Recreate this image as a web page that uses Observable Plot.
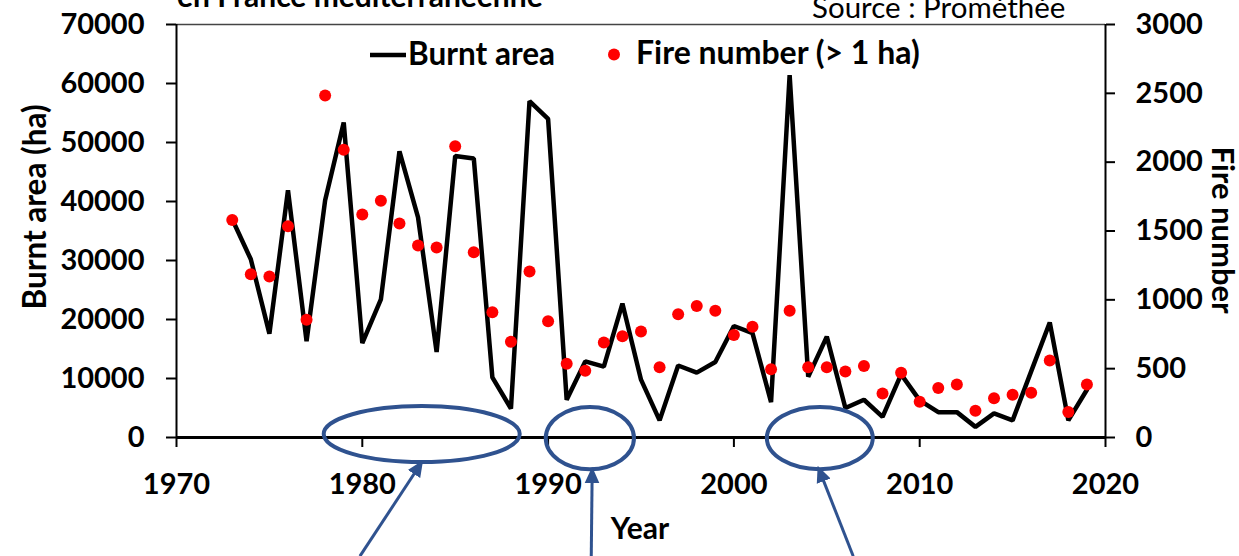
<!DOCTYPE html>
<html><head><meta charset="utf-8">
<script src="https://cdn.jsdelivr.net/npm/d3@7"></script>
<script src="https://cdn.jsdelivr.net/npm/@observablehq/plot@0.6"></script>
<style>
body{margin:0;background:#fff;}
#wrap{position:relative;width:1239px;height:556px;overflow:hidden;background:#fff;}
</style></head><body><div id="wrap"></div>
<script>
const years = [1973,1974,1975,1976,1977,1978,1979,1980,1981,1982,1983,1984,1985,1986,1987,1988,1989,1990,1991,1992,1993,1994,1995,1996,1997,1998,1999,2000,2001,2002,2003,2004,2005,2006,2007,2008,2009,2010,2011,2012,2013,2014,2015,2016,2017,2018,2019];
const burntArea = [37000,30200,17600,41900,16300,40200,53400,16000,23400,48500,37300,14500,47700,47300,10200,4900,57000,54000,6400,12900,12000,22700,9800,2900,12200,11000,12800,18900,17700,6000,61400,10300,17100,5000,6400,3500,10700,6300,4300,4300,1800,4100,2900,11200,19500,2900,8100];
const fireNumber = [1580,1185,1170,1535,855,2485,2090,1620,1720,1555,1395,1380,2115,1345,910,695,1205,845,535,485,690,735,770,510,895,955,920,745,805,495,920,510,510,480,520,320,470,260,360,385,195,285,310,325,560,185,385];
const areaTicks = [0,10000,20000,30000,40000,50000,60000,70000];
const fireTicks = [0,500,1000,1500,2000,2500,3000];
const yearTicks = [1970,1980,1990,2000,2010,2020];
const seriesNames = ["Burnt area","Fire number (> 1 ha)"];
const titleText = "en France méditerranéenne";
const sourceText = "Source : Prométhée";
const xLabel = "Year", yLabel = "Burnt area (ha)", y2Label = "Fire number";

// annotation shapes (in data units: year, burnt-area scale)
const annoEllipses = [
  {x1:1977.95, x2:1988.5, y1:5250, y2:-4250},
  {x1:1989.9, x2:1994.65, y1:5100, y2:-5450},
  {x1:2001.8, x2:2007.5, y1:5100, y2:-5450}
];
const annoArrows = [
  {x1:1979.9, y1:-20200, x2:1983.2, y2:-4400},
  {x1:1992.35, y1:-20200, x2:1992.4, y2:-5600},
  {x1:2006.45, y1:-20200, x2:2004.6, y2:-5400}
];

const AREA_MAX = 70000, FIRE_MAX = 3000, k = AREA_MAX / FIRE_MAX;
const data = years.map((year, i) => ({year, area: burntArea[i], fire: fireNumber[i]}));
const font = "Lato, 'DejaVu Sans', sans-serif";

const plot = Plot.plot({
  width: 1239, height: 556,
  marginLeft: 176, marginRight: 134, marginTop: 24, marginBottom: 119,
  style: {fontFamily: font, fontSize: "29px", fontWeight: "700", color: "#000", background: "#fff", overflow: "visible"},
  x: {domain: [1970, 2020]},
  y: {domain: [0, AREA_MAX]},
  marks: [
    Plot.ruleY([AREA_MAX], {stroke: "#444", strokeWidth: 1.5}),
    Plot.axisY(areaTicks, {anchor: "left", tickSize: 10, tickPadding: 22, tickFormat: d => String(d), label: null, strokeWidth: 2}),
    Plot.axisY(fireTicks.map(v => v * k), {anchor: "right", tickSize: 9, tickPadding: 21, tickFormat: d => String(Math.round(d / k)), label: null, strokeWidth: 2}),
    Plot.axisX(yearTicks, {anchor: "bottom", tickSize: 10, tickPadding: 26, tickFormat: d => String(d), label: null, strokeWidth: 2}),
    Plot.ruleX([1970], {strokeWidth: 2}),
    Plot.ruleX([2020], {strokeWidth: 2}),
    Plot.ruleY([0], {strokeWidth: 3}),
    Plot.line(data, {x: "year", y: "area", stroke: "#000", strokeWidth: 4.5, strokeLinejoin: "miter"}),
    Plot.dot(data, {x: "year", y: d => d.fire * k, r: 6, fill: "#ff0000", stroke: "none"})
  ]
});
document.getElementById("wrap").appendChild(plot);

const sx = plot.scale("x"), sy = plot.scale("y");
const svg = d3.select(plot);
const blue = "#2f528f";

// annotations
const defs = svg.append("defs");
defs.append("marker").attr("id", "ah").attr("viewBox", "0 0 10 10").attr("refX", 8).attr("refY", 5)
  .attr("markerWidth", 5.5).attr("markerHeight", 5.5).attr("orient", "auto")
  .append("path").attr("d", "M0,0.5L10,5L0,9.5z").attr("fill", blue);
svg.append("g").selectAll("ellipse").data(annoEllipses).join("ellipse")
  .attr("cx", d => (sx.apply(d.x1) + sx.apply(d.x2)) / 2)
  .attr("cy", d => (sy.apply(d.y1) + sy.apply(d.y2)) / 2)
  .attr("rx", d => Math.abs(sx.apply(d.x2) - sx.apply(d.x1)) / 2)
  .attr("ry", d => Math.abs(sy.apply(d.y2) - sy.apply(d.y1)) / 2)
  .attr("fill", "none").attr("stroke", blue).attr("stroke-width", 4);
svg.append("g").selectAll("line").data(annoArrows).join("line")
  .attr("x1", d => sx.apply(d.x1)).attr("y1", d => sy.apply(d.y1))
  .attr("x2", d => sx.apply(d.x2)).attr("y2", d => sy.apply(d.y2))
  .attr("stroke", blue).attr("stroke-width", 3).attr("marker-end", "url(#ah)");

// legend
const lg = svg.append("g").attr("font-family", font).attr("font-weight", 700).attr("text-anchor", "start");
lg.append("line").attr("x1", 370).attr("x2", 406).attr("y1", 55).attr("y2", 55).attr("stroke", "#000").attr("stroke-width", 4.5);
lg.append("text").attr("x", 408).attr("y", 65).attr("font-size", 31.5).text(seriesNames[0]);
lg.append("circle").attr("cx", 614).attr("cy", 54.5).attr("r", 6).attr("fill", "#ff0000");
lg.append("text").attr("x", 636).attr("y", 64).attr("font-size", 32).text(seriesNames[1]);

// titles
const tg = svg.append("g").attr("font-family", font).attr("fill", "#000");
tg.append("text").attr("x", 177).attr("y", 7).attr("text-anchor", "start").attr("font-weight", 700).attr("font-size", 30).text(titleText);
tg.append("text").attr("x", 812).attr("y", 17.5).attr("text-anchor", "start").attr("font-weight", 400).attr("font-size", 29.5).text(sourceText);
tg.append("text").attr("x", 640).attr("y", 539).attr("text-anchor", "middle").attr("font-weight", 700).attr("font-size", 30).text(xLabel);
tg.append("text").attr("transform", "translate(46,207) rotate(-90)").attr("text-anchor", "middle").attr("font-weight", 700).attr("font-size", 31.5).text(yLabel);
tg.append("text").attr("transform", "translate(1212,230) rotate(90)").attr("text-anchor", "middle").attr("font-weight", 700).attr("font-size", 31).text(y2Label);
</script>
</body></html>
